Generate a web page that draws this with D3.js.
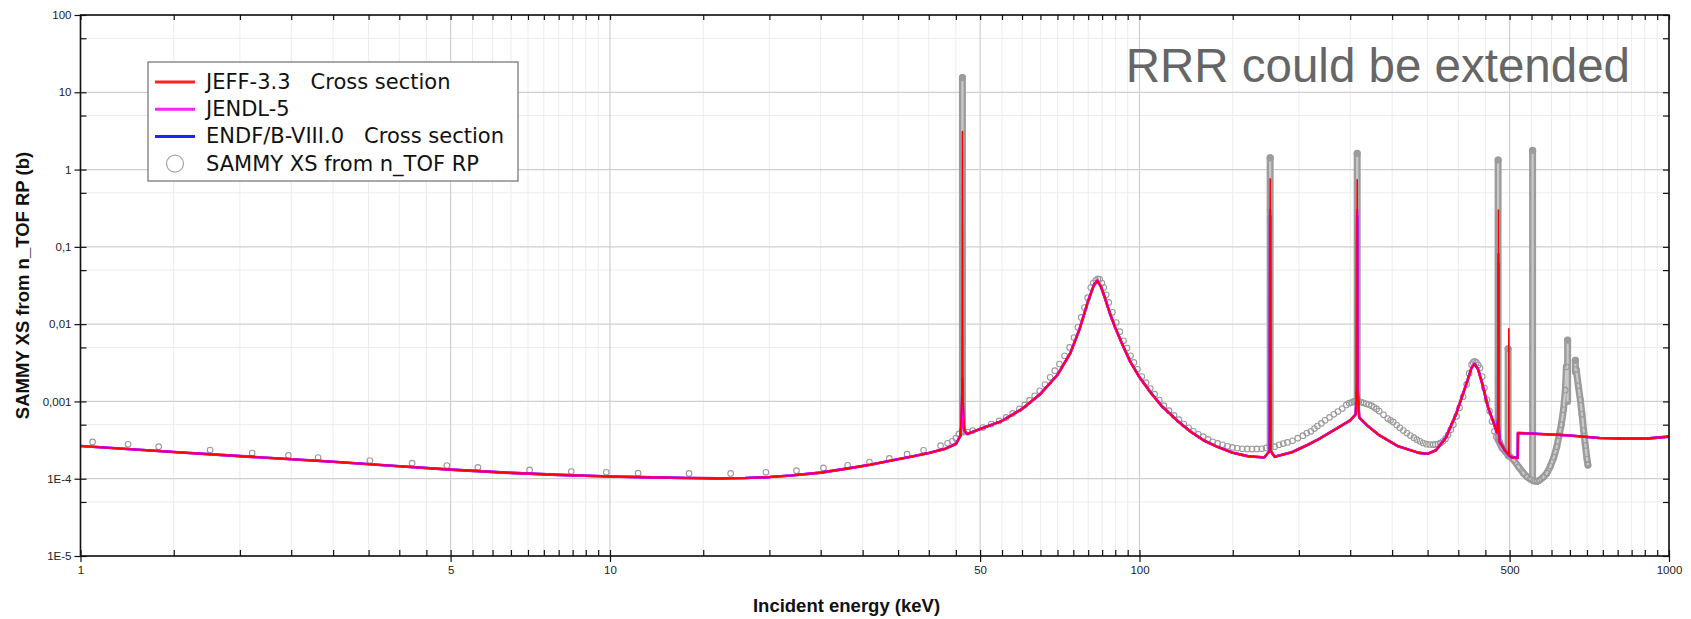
<!DOCTYPE html>
<html>
<head>
<meta charset="utf-8">
<script src="https://cdn.jsdelivr.net/npm/d3@7"></script>
<style>
  body { margin: 0; background: #fff; }
  .tick text { font-family: "Liberation Sans", Arial, sans-serif; font-size: 11.5px; fill: #222; }
</style>
</head>
<body>
<div id="chart"></div>
<script>
// evaluated cross sections (keV, barn)
const energy = [1, 1.5, 2, 3, 4, 5, 6.5, 8, 10, 12, 14, 16, 18, 20, 22, 25, 28, 31, 34, 37,
  40, 43, 45, 45.9, 46.2, 46.3, 46.4, 46.7, 47.3, 50, 55, 60, 65, 70, 74, 77, 80, 82, 83.2, 84.5,
  86, 88, 90, 93, 96, 100, 105, 110, 118, 125, 132, 140, 150, 160, 172, 176.2, 176.5, 176.8, 180, 194,
  208, 218, 235, 250, 256, 257.4, 257.7, 258.0, 260, 270, 283, 308, 337, 350, 363, 379, 396, 414, 424, 429.4,
  436, 445, 455, 465, 473, 475.9, 476.2, 476.5, 478, 491, 497.8, 498.3, 498.8, 504, 518, 518.5, 640, 739, 830, 906,
  1000];

const jeffXS = [2.65e-4, 2.22e-4, 1.96e-4, 1.66e-4, 1.45e-4, 1.31e-4, 1.19e-4, 1.12e-4, 1.07e-4, 1.04e-4,
  1.02e-4, 1.01e-4, 1.02e-4, 1.05e-4, 1.1e-4, 1.2e-4, 1.35e-4, 1.52e-4, 1.72e-4, 1.92e-4,
  2.15e-4, 2.45e-4, 2.8e-4, 3.6e-4, 1.2e-3, 3.1, 1.2e-3, 4.2e-4, 3.8e-4, 4.4e-4,
  5.6e-4, 8.0e-4, 1.25e-3, 2.2e-3, 4.2e-3, 8.5e-3, 0.02, 0.032, 0.0365, 0.031,
  0.022, 0.0135, 9e-3, 5.3e-3, 3.3e-3, 2.05e-3, 1.3e-3, 8.8e-4, 5.6e-4, 4.05e-4,
  3.15e-4, 2.6e-4, 2.17e-4, 1.96e-4, 1.88e-4, 2.3e-4, 0.76, 2.3e-4, 1.92e-4, 2.2e-4,
  2.75e-4, 3.25e-4, 4.4e-4, 5.7e-4, 6.8e-4, 1.5e-3, 0.74, 1.5e-3, 6.2e-4, 4.8e-4,
  3.7e-4, 2.63e-4, 2.16e-4, 2.1e-4, 2.33e-4, 3.4e-4, 6.8e-4, 1.66e-3, 2.75e-3, 3.05e-3,
  2.6e-3, 1.6e-3, 8.5e-4, 5.6e-4, 4.0e-4, 6e-4, 0.30, 6e-4, 3.06e-4, 2.27e-4,
  2.05e-4, 8.7e-3, 2.0e-4, 1.89e-4, 1.86e-4, 3.9e-4, 3.65e-4, 3.37e-4, 3.3e-4, 3.3e-4,
  3.5e-4];

const jendlXS = [2.65e-4, 2.22e-4, 1.96e-4, 1.66e-4, 1.45e-4, 1.31e-4, 1.19e-4, 1.12e-4, 1.07e-4, 1.04e-4,
  1.02e-4, 1.01e-4, 1.02e-4, 1.05e-4, 1.1e-4, 1.2e-4, 1.35e-4, 1.52e-4, 1.72e-4, 1.92e-4,
  2.15e-4, 2.45e-4, 2.8e-4, 3.6e-4, 6e-4, 2e-3, 6e-4, 4.2e-4, 3.8e-4, 4.4e-4,
  5.6e-4, 8.0e-4, 1.25e-3, 2.2e-3, 4.2e-3, 8.5e-3, 0.02, 0.032, 0.0365, 0.031,
  0.022, 0.0135, 9e-3, 5.3e-3, 3.3e-3, 2.05e-3, 1.3e-3, 8.8e-4, 5.6e-4, 4.05e-4,
  3.15e-4, 2.6e-4, 2.17e-4, 1.96e-4, 1.88e-4, 2.3e-4, 0.3, 2.3e-4, 1.92e-4, 2.2e-4,
  2.75e-4, 3.25e-4, 4.4e-4, 5.7e-4, 6.8e-4, 1.5e-3, 0.3, 1.5e-3, 6.2e-4, 4.8e-4,
  3.7e-4, 2.63e-4, 2.16e-4, 2.1e-4, 2.33e-4, 3.4e-4, 6.8e-4, 1.66e-3, 2.75e-3, 3.05e-3,
  2.6e-3, 1.6e-3, 8.5e-4, 5.6e-4, 4.0e-4, 6e-4, 0.08, 6e-4, 3.06e-4, 2.27e-4,
  2.05e-4, 2.1e-4, 2.0e-4, 1.89e-4, 1.86e-4, 3.9e-4, 3.65e-4, 3.37e-4, 3.3e-4, 3.3e-4,
  3.5e-4];

const endfXS = [2.65e-4, 2.22e-4, 1.96e-4, 1.66e-4, 1.45e-4, 1.31e-4, 1.19e-4, 1.12e-4, 1.07e-4, 1.04e-4,
  1.02e-4, 1.01e-4, 1.02e-4, 1.05e-4, 1.1e-4, 1.2e-4, 1.35e-4, 1.52e-4, 1.72e-4, 1.92e-4,
  2.15e-4, 2.45e-4, 2.8e-4, 3.6e-4, 6e-4, 1.6e-3, 6e-4, 4.2e-4, 3.8e-4, 4.4e-4,
  5.6e-4, 8.0e-4, 1.25e-3, 2.2e-3, 4.2e-3, 8.5e-3, 0.02, 0.032, 0.0365, 0.031,
  0.022, 0.0135, 9e-3, 5.3e-3, 3.3e-3, 2.05e-3, 1.3e-3, 8.8e-4, 5.6e-4, 4.05e-4,
  3.15e-4, 2.6e-4, 2.17e-4, 1.96e-4, 1.88e-4, 2.3e-4, 0.25, 2.3e-4, 1.92e-4, 2.2e-4,
  2.75e-4, 3.25e-4, 4.4e-4, 5.7e-4, 6.8e-4, 1.5e-3, 0.25, 1.5e-3, 6.2e-4, 4.8e-4,
  3.7e-4, 2.63e-4, 2.16e-4, 2.1e-4, 2.33e-4, 3.4e-4, 6.8e-4, 1.66e-3, 2.75e-3, 3.05e-3,
  2.6e-3, 1.6e-3, 8.5e-4, 5.6e-4, 4.0e-4, 6e-4, 0.06, 6e-4, 3.06e-4, 2.27e-4,
  2.05e-4, 2.1e-4, 2.0e-4, 1.89e-4, 1.86e-4, 3.9e-4, 3.65e-4, 3.37e-4, 3.3e-4, 3.3e-4,
  3.5e-4];

// SAMMY points [keV, barn]
const sammyLow = [[1.054, 2.99e-4], [1.23, 2.79e-4], [1.405, 2.6e-4], [1.757, 2.35e-4], [2.11, 2.15e-4],
  [2.47, 2.0e-4], [2.81, 1.88e-4], [3.52, 1.72e-4], [4.23, 1.59e-4], [4.92, 1.48e-4], [5.63, 1.4e-4],
  [7.05, 1.3e-4], [8.45, 1.24e-4], [9.84, 1.21e-4], [11.3, 1.18e-4], [14.1, 1.17e-4], [16.9, 1.17e-4],
  [19.7, 1.21e-4], [22.5, 1.27e-4], [25.3, 1.38e-4], [28.1, 1.49e-4], [30.9, 1.64e-4], [33.7, 1.83e-4],
  [36.4, 2.08e-4], [39.1, 2.33e-4], [42.1, 2.68e-4], [43.4, 2.87e-4], [44.3, 3.05e-4], [45.0, 3.35e-4],
  [45.6, 3.8e-4]];

const sammyPeak83 = [[47.4, 4.0e-4], [48.4, 4.2e-4], [50.6, 4.6e-4], [52.5, 5.1e-4], [54.3, 5.6e-4],
  [56.0, 6.2e-4], [57.6, 7.0e-4], [59.3, 8.0e-4], [60.7, 9.0e-4], [62.0, 1.03e-3], [63.4, 1.18e-3],
  [64.8, 1.37e-3], [66.3, 1.65e-3], [67.8, 2.05e-3], [69.2, 2.5e-3], [70.6, 3.05e-3], [72.2, 3.9e-3],
  [73.8, 5.0e-3], [75.2, 6.7e-3], [76.5, 9.1e-3], [77.6, 0.0122], [78.7, 0.0164], [79.8, 0.022],
  [80.9, 0.0298], [81.8, 0.034], [82.7, 0.037], [83.4, 0.0385], [84.1, 0.038], [84.9, 0.034],
  [85.6, 0.0298], [86.5, 0.024], [87.5, 0.0191], [88.9, 0.0142], [90.4, 0.0105], [91.8, 8.0e-3],
  [93.3, 6.1e-3], [94.7, 4.9e-3], [96.2, 3.9e-3], [97.6, 3.2e-3], [99.1, 2.6e-3], [101, 2.1e-3],
  [102.9, 1.75e-3], [104.8, 1.47e-3], [106.8, 1.24e-3], [109, 1.04e-3], [111.2, 8.8e-4], [113.7, 7.6e-4],
  [116.2, 6.6e-4], [118.7, 5.8e-4], [121.2, 5.1e-4], [123.8, 4.55e-4], [126.4, 4.1e-4], [129.1, 3.75e-4],
  [131.9, 3.5e-4], [134.7, 3.22e-4], [137.5, 3.0e-4], [140.5, 2.86e-4], [143.5, 2.75e-4], [146.6, 2.63e-4],
  [149.8, 2.54e-4], [153, 2.48e-4], [156.3, 2.44e-4], [159.7, 2.43e-4], [163.1, 2.42e-4], [166.6, 2.43e-4],
  [170.2, 2.44e-4], [173.5, 2.5e-4]];

const sammyMid = [[180, 2.6e-4], [183.4, 2.75e-4], [186.8, 2.85e-4], [190.3, 2.95e-4], [194.5, 3.1e-4],
  [199, 3.35e-4], [203.5, 3.6e-4], [207, 3.9e-4], [210.7, 4.1e-4], [214, 4.45e-4], [216.8, 4.8e-4],
  [220.5, 5.2e-4], [224.1, 5.7e-4], [228.5, 6.2e-4], [232.8, 6.8e-4], [237, 7.4e-4], [241.5, 8.1e-4],
  [245.8, 9.0e-4], [249, 9.5e-4], [251.9, 9.7e-4], [254, 1.0e-3], [255.8, 1.02e-3], [259.5, 1.0e-3],
  [262, 9.8e-4], [264.6, 9.6e-4], [268, 9.3e-4], [271.2, 9.1e-4], [274.3, 8.8e-4], [277.3, 8.4e-4],
  [280.4, 8.0e-4], [283.5, 7.5e-4], [289, 6.7e-4], [294.3, 6.0e-4], [298, 5.7e-4], [301.5, 5.4e-4],
  [306, 4.95e-4], [310.3, 4.55e-4], [315, 4.2e-4], [319.9, 3.9e-4], [324.8, 3.62e-4], [329.7, 3.4e-4],
  [334, 3.2e-4], [338.6, 3.05e-4], [343.4, 2.9e-4], [348.3, 2.8e-4], [353.3, 2.77e-4], [358.4, 2.76e-4],
  [362.2, 2.77e-4], [366, 2.8e-4], [370, 2.9e-4], [374.2, 3.05e-4], [378.5, 3.3e-4], [382.7, 3.7e-4],
  [387, 4.3e-4], [391.5, 5.0e-4], [397, 6.4e-4], [402.3, 8.3e-4], [408.5, 1.15e-3], [414.8, 1.66e-3],
  [419.3, 2.3e-3], [423.7, 3.0e-3], [426.5, 3.2e-3], [429.4, 3.3e-3], [432.8, 3.2e-3], [436.2, 2.95e-3],
  [439.7, 2.7e-3], [443.9, 2.1e-3], [448.1, 1.5e-3], [453.2, 1.05e-3], [458.3, 7.5e-4], [463.2, 5.5e-4],
  [468.1, 4.1e-4], [472, 3.5e-4]];

// dense SAMMY band above 476 keV
const sammyBand = [[478, 3.0e-4], [484, 2.5e-4], [491, 2.24e-4], [500, 1.95e-4], [509, 1.75e-4],
  [520, 1.42e-4], [531, 1.18e-4], [539, 1.06e-4], [547, 9.9e-5], [555, 9.4e-5], [563, 9.2e-5],
  [570, 9.6e-5], [579, 1.05e-4], [588, 1.18e-4], [597, 1.45e-4], [606, 1.9e-4], [614, 2.6e-4],
  [620, 3.6e-4], [626, 5.0e-4], [632, 7.8e-4], [637, 1.4e-3], [640, 2.8e-3]];
const sammyTail = [[668, 2.6e-3], [674, 1.6e-3], [680, 1.05e-3], [685, 6.8e-4], [690, 4.2e-4],
  [695, 2.7e-4], [700, 1.8e-4], [703, 1.5e-4]];

// narrow resonances: SAMMY points pile up in columns
const stackE = [46.3, 176.5, 257.7, 475.6, 496.8, 552.6, 643.5, 665.5];
const stackLow = [4.0e-4, 2.5e-4, 1.0e-3, 3.2e-4, 2.0e-4, 1.0e-4, 1.0e-3, 2.4e-3];
const stackHigh = [15.5, 1.42, 1.62, 1.33, 4.8e-3, 1.77, 6.2e-3, 3.4e-3];

const xMajor = [1, 5, 10, 50, 100, 500, 1000];
const yMajor = [1e-5, 1e-4, 1e-3, 1e-2, 0.1, 1, 10, 100];
const yLabels = ["1E-5", "1E-4", "0,001", "0,01", "0,1", "1", "10", "100"];

const legendItems = [
  { label: "JEFF-3.3   Cross section", color: "#ff2222", type: "line" },
  { label: "JENDL-5", color: "#ff22ff", type: "line" },
  { label: "ENDF/B-VIII.0   Cross section", color: "#2222ff", type: "line" },
  { label: "SAMMY XS from n_TOF RP", color: "#a8a8a8", type: "circle" }
];

const W = 1691, H = 619;
const m = { left: 80.5, right: 1669, top: 15, bottom: 556 };

const x = d3.scaleLog().domain([1, 1000]).range([m.left, m.right]);
const y = d3.scaleLog().domain([1e-5, 100]).range([m.bottom, m.top]);

// ticks every 0.5 of a decade step
const xAll = [];
[1, 10, 100].forEach(d => { for (let k = 1; k < 10; k += 0.5) xAll.push(k * d); });
xAll.push(1000);
const xMinor = xAll.filter(v => !xMajor.includes(v));
const yMinor = yMajor.slice(0, -1).map(v => v * 5);
const yAll = yMajor.concat(yMinor);

const svg = d3.select("#chart").append("svg")
  .attr("width", W)
  .attr("height", H)
  .style("font-family", "'Liberation Sans', Arial, sans-serif");

svg.append("defs").append("clipPath").attr("id", "plot-clip")
  .append("rect")
  .attr("x", m.left).attr("y", m.top)
  .attr("width", m.right - m.left).attr("height", m.bottom - m.top);

// Grid
const grid = svg.append("g");
grid.selectAll(".vminor").data(xMinor).join("line")
  .attr("x1", d => x(d)).attr("x2", d => x(d))
  .attr("y1", m.top).attr("y2", m.bottom)
  .attr("stroke", "#ececec").attr("stroke-width", 1);
grid.selectAll(".hminor").data(yMinor).join("line")
  .attr("x1", m.left).attr("x2", m.right)
  .attr("y1", d => y(d)).attr("y2", d => y(d))
  .attr("stroke", "#ececec").attr("stroke-width", 1);
grid.selectAll(".vmajor").data(xMajor).join("line")
  .attr("x1", d => x(d)).attr("x2", d => x(d))
  .attr("y1", m.top).attr("y2", m.bottom)
  .attr("stroke", "#cfcfcf").attr("stroke-width", 1.2);
grid.selectAll(".hmajor").data(yMajor).join("line")
  .attr("x1", m.left).attr("x2", m.right)
  .attr("y1", d => y(d)).attr("y2", d => y(d))
  .attr("stroke", "#cfcfcf").attr("stroke-width", 1.2);

const plot = svg.append("g").attr("clip-path", "url(#plot-clip)");
const line = d3.line().x(d => x(d[0])).y(d => y(d[1]));

// SAMMY columns and dense band
const stacks = stackE.map((e, i) => [[e, stackLow[i]], [e, stackHigh[i]]]);
const tubes = stacks.concat([sammyBand, sammyTail]);
plot.selectAll(".tube").data(tubes).join("path")
  .attr("d", line)
  .attr("fill", "none")
  .attr("stroke", "#9c9c9c")
  .attr("stroke-width", 7)
  .attr("stroke-linecap", "round")
  .attr("stroke-linejoin", "round");
plot.selectAll(".tube-in").data(tubes).join("path")
  .attr("d", line)
  .attr("fill", "none")
  .attr("stroke", "#c9c9c9")
  .attr("stroke-width", 2.2)
  .attr("stroke-linejoin", "round");
plot.selectAll(".stack-top").data(stacks).join("circle")
  .attr("cx", d => x(d[1][0]))
  .attr("cy", d => y(d[1][1]))
  .attr("r", 3.6)
  .attr("fill", "#9c9c9c");

const sammyPts = sammyLow.concat(sammyPeak83, sammyMid, sammyBand, sammyTail);
plot.selectAll(".sammy").data(sammyPts).join("circle")
  .attr("cx", d => x(d[0]))
  .attr("cy", d => y(d[1]))
  .attr("r", 2.8)
  .attr("fill", "none")
  .attr("stroke", "#9a9a9a")
  .attr("stroke-width", 1.1);

// Evaluations, blue under magenta under red
const evals = [
  { xs: endfXS, color: "#0000ff", width: 2.6 },
  { xs: jendlXS, color: "#ff00ff", width: 2.6 },
  { xs: jeffXS, color: "#ff0000", width: 1.6 }
];
plot.selectAll(".eval").data(evals).join("path")
  .attr("d", d => line(energy.map((e, i) => [e, d.xs[i]])))
  .attr("fill", "none")
  .attr("stroke", d => d.color)
  .attr("stroke-width", d => d.width)
  .attr("stroke-linejoin", "round");

// Axes
function clean(g) {
  g.select(".domain").remove();
  g.selectAll(".tick line").attr("stroke", "#111").attr("stroke-width", 1.2);
}
svg.append("g")
  .attr("transform", `translate(0,${m.bottom})`)
  .call(d3.axisBottom(x).tickValues(xMajor).tickFormat(d3.format("d")).tickSize(6).tickPadding(4))
  .call(clean);
svg.append("g")
  .attr("transform", `translate(0,${m.bottom})`)
  .call(d3.axisTop(x).tickValues(xAll).tickFormat("").tickSize(6))
  .call(clean);
svg.append("g")
  .attr("transform", `translate(0,${m.top})`)
  .call(d3.axisBottom(x).tickValues(xAll).tickFormat("").tickSize(5))
  .call(clean);
svg.append("g")
  .attr("transform", `translate(${m.left},0)`)
  .call(d3.axisLeft(y).tickValues(yMajor).tickFormat(d => yLabels[yMajor.indexOf(d)]).tickSize(6).tickPadding(3))
  .call(clean);
svg.append("g")
  .attr("transform", `translate(${m.left},0)`)
  .call(d3.axisRight(y).tickValues(yAll).tickFormat("").tickSize(6))
  .call(clean);
svg.append("g")
  .attr("transform", `translate(${m.right},0)`)
  .call(d3.axisLeft(y).tickValues(yAll).tickFormat("").tickSize(6))
  .call(clean);

svg.append("rect")
  .attr("x", m.left).attr("y", m.top)
  .attr("width", m.right - m.left).attr("height", m.bottom - m.top)
  .attr("fill", "none")
  .attr("stroke", "#111")
  .attr("stroke-width", 1.6);

// Axis titles
svg.append("text")
  .attr("x", 846.5).attr("y", 612)
  .attr("text-anchor", "middle")
  .attr("font-size", 18.5).attr("font-weight", "bold").attr("fill", "#111")
  .text("Incident energy (keV)");
svg.append("text")
  .attr("transform", `translate(22,${(m.top + m.bottom) / 2}) rotate(-90)`)
  .attr("text-anchor", "middle")
  .attr("dominant-baseline", "central")
  .attr("font-size", 18.5).attr("font-weight", "bold").attr("fill", "#111")
  .text("SAMMY XS from n_TOF RP (b)");

// Annotation
svg.append("text")
  .attr("x", 1630).attr("y", 82)
  .attr("text-anchor", "end")
  .attr("font-size", 47.5).attr("fill", "#666")
  .text("RRR could be extended");

// Legend
const legend = svg.append("g").attr("transform", "translate(148,62)");
legend.append("rect")
  .attr("width", 370).attr("height", 119)
  .attr("fill", "#fff")
  .attr("stroke", "#7a7a7a").attr("stroke-width", 1.3);
const rows = legend.selectAll(".row").data(legendItems).join("g")
  .attr("transform", (d, i) => `translate(0,${20 + i * 27.2})`);
rows.filter(d => d.type === "line").append("line")
  .attr("x1", 7).attr("x2", 47)
  .attr("stroke", d => d.color).attr("stroke-width", 3);
rows.filter(d => d.type === "circle").append("circle")
  .attr("cx", 27).attr("r", 8.5)
  .attr("fill", "none")
  .attr("stroke", d => d.color).attr("stroke-width", 1.3);
rows.append("text")
  .attr("x", 58)
  .attr("dominant-baseline", "central")
  .attr("font-family", "'DejaVu Sans', sans-serif")
  .attr("font-size", 21)
  .attr("fill", "#111")
  .style("white-space", "pre")
  .text(d => d.label);
</script>
</body>
</html>
